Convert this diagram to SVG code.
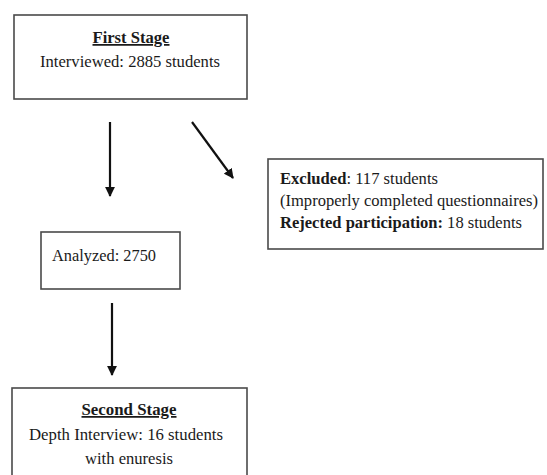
<svg xmlns="http://www.w3.org/2000/svg" width="547" height="475" viewBox="0 0 547 475">
<defs>
<style>
.box{fill:#fff;stroke:#4a4a4a;stroke-width:1.6}
text{font-family:"Liberation Serif","Times New Roman",serif;font-size:17.5px;fill:#1a1a1a}
.s{font-size:16.5px}
.b{font-weight:bold}
.u{text-decoration:underline}
.c{text-anchor:middle}
.arr{stroke:#111;stroke-width:2.2;fill:none;marker-end:url(#ah)}
</style>
<marker id="ah" viewBox="0 0 10 10" refX="9" refY="5" markerWidth="4.5" markerHeight="4.5" orient="auto" markerUnits="strokeWidth">
<path d="M0,0 L10,5 L0,10 z" fill="#111"/>
</marker>
</defs>
<rect width="547" height="475" fill="#fff"/>
<g id="connectors">
<line class="arr" x1="110" y1="122" x2="110" y2="196"/>
<line class="arr" x1="192" y1="122" x2="233" y2="178"/>
<line class="arr" x1="112" y1="303" x2="112" y2="375"/>
</g>
<g id="first-stage">
<rect class="box" x="14" y="15" width="233" height="84"/>
<text class="c b u" x="131" y="43" textLength="77" lengthAdjust="spacingAndGlyphs">First Stage</text>
<text class="c" x="130" y="67" textLength="180" lengthAdjust="spacingAndGlyphs">Interviewed: 2885 students</text>
</g>
<g id="excluded">
<rect class="box" x="268" y="159" width="275" height="90"/>
<text class="s" x="280" y="184" textLength="158" lengthAdjust="spacingAndGlyphs"><tspan class="b">Excluded</tspan>: 117 students</text>
<text class="s" x="280" y="206" textLength="258" lengthAdjust="spacingAndGlyphs">(Improperly completed questionnaires)</text>
<text class="s" x="280" y="228" textLength="242" lengthAdjust="spacingAndGlyphs"><tspan class="b">Rejected participation:</tspan> 18 students</text>
</g>
<g id="analyzed">
<rect class="box" x="41" y="232" width="139" height="57"/>
<text x="52" y="261" textLength="104" lengthAdjust="spacingAndGlyphs">Analyzed: 2750</text>
</g>
<g id="second-stage">
<rect class="box" x="12" y="388" width="235" height="95"/>
<text class="c b u" x="129" y="415" textLength="95" lengthAdjust="spacingAndGlyphs">Second Stage</text>
<text class="c" x="126" y="440" textLength="194" lengthAdjust="spacingAndGlyphs">Depth Interview: 16 students</text>
<text class="c" x="129" y="464" textLength="88" lengthAdjust="spacingAndGlyphs">with enuresis</text>
</g>
</svg>
